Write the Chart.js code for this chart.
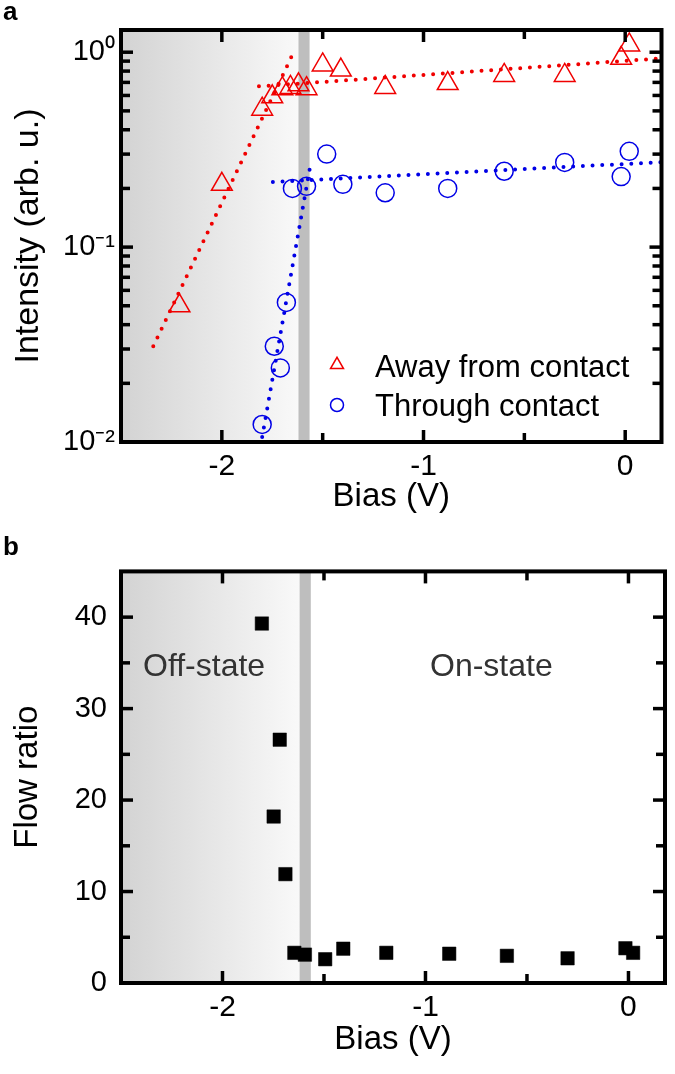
<!DOCTYPE html>
<html><head><meta charset="utf-8">
<script src="https://cdn.jsdelivr.net/npm/chart.js@4.4.1/dist/chart.umd.min.js"></script>
<style>
html,body{margin:0;padding:0;background:#fff;}
#wrap{position:relative;width:675px;height:1074px;overflow:hidden;font-family:"Liberation Sans",Arial,sans-serif;}
.box{position:absolute;left:0;width:675px;}
.lbl{position:absolute;line-height:1;white-space:nowrap;color:#000;}
</style></head><body>
<div id="wrap">
  <div class="box" style="top:0;height:540px"><canvas id="c1"></canvas></div>
  <div class="box" style="top:540px;height:534px"><canvas id="c2"></canvas></div>
  <div class="lbl" style="left:3px;top:-2px;font-size:26px;font-weight:bold;">a</div>
  <div class="lbl" style="left:3px;top:533px;font-size:26px;font-weight:bold;">b</div>
  <svg style="position:absolute;left:320px;top:350px;" width="35" height="70">
    <polygon points="10.5,18.6 23.5,18.6 17,7.3" fill="none" stroke="rgb(240,0,0)" stroke-width="1.5"/>
    <circle cx="17" cy="55" r="6.5" fill="none" stroke="rgb(0,0,230)" stroke-width="1.5"/>
  </svg>
  <div class="lbl" style="left:375px;top:351px;font-size:31px;">Away from contact</div>
  <div class="lbl" style="left:375px;top:390px;font-size:31px;">Through contact</div>
  <div class="lbl" style="left:143px;top:649px;font-size:32px;color:#333;">Off-state</div>
  <div class="lbl" style="left:430px;top:649px;font-size:32px;color:#333;">On-state</div>
</div>
<script>
// ---- data ----
const awayX = [-2.21, -2.00, -1.80, -1.75, -1.70, -1.66, -1.62, -1.58, -1.50, -1.41, -1.19, -0.88, -0.60, -0.30, -0.02, 0.02];
const awayY = [0.050, 0.21, 0.51, 0.59, 0.65, 0.66, 0.68, 0.65, 0.86, 0.81, 0.66, 0.69, 0.76, 0.76, 0.93, 1.09];
const throughX = [-1.80, -1.74, -1.71, -1.68, -1.65, -1.58, -1.48, -1.40, -1.19, -0.88, -0.60, -0.30, -0.02, 0.02];
const throughY = [0.0123, 0.031, 0.024, 0.052, 0.20, 0.205, 0.30, 0.21, 0.19, 0.20, 0.245, 0.272, 0.23, 0.31];
const awayFitSteepX = [-2.34, -1.65];
const awayFitSteepY = [0.031, 0.97];
const awayFitFlatX = [-1.816, 0.18];
const awayFitFlatY = [0.668, 0.93];
const throughFitSteepX = [-1.80, -1.562];
const throughFitSteepY = [0.0106, 0.26];
const throughFitFlatX = [-1.747, 0.18];
const throughFitFlatY = [0.216, 0.273];
const ratioX = [-1.806, -1.748, -1.718, -1.69, -1.646, -1.594, -1.494, -1.405, -1.193, -0.883, -0.599, -0.30, -0.015, 0.023];
const ratioY = [39.3, 18.2, 26.6, 11.9, 3.3, 3.1, 2.6, 3.75, 3.3, 3.2, 2.97, 2.7, 3.8, 3.3];

const xTickValues = [-2, -1, 0];
const xTickLabels = ['-2', '-1', '0'];
const xMinorTicks = [-1.5, -0.5];
const intensityTickValues = [0.01, 0.1, 1];
const intensityTickLabels = ['10\u207B\u00B2', '10\u207B\u00B9', '10\u2070'];
const intensityMinorTicks = [0.02, 0.03, 0.04, 0.05, 0.06, 0.07, 0.08, 0.09, 0.2, 0.3, 0.4, 0.5, 0.6, 0.7, 0.8, 0.9];
const ratioTickValues = [0, 10, 20, 30, 40];
const ratioTickLabels = ['0', '10', '20', '30', '40'];
const ratioMinorTicks = [5, 15, 25, 35];
const shadeRange = [-2.5, -1.62];
const bandRange = [-1.62, -1.565];

// ---- helpers ----
const FONT = '"Liberation Sans", Arial, sans-serif';
const RED = 'rgb(240,0,0)';
const BLUE = 'rgb(0,0,230)';
const pts = (xs, ys) => xs.map((x, i) => ({x: x, y: ys[i]}));

function makeDecor(cfg) {
  return {
    id: 'decor',
    beforeDatasetsDraw(chart) {
      const {ctx, chartArea: a, scales: {x}} = chart;
      const s0 = x.getPixelForValue(shadeRange[0]), s1 = x.getPixelForValue(shadeRange[1]);
      ctx.save();
      const g = ctx.createLinearGradient(s0, 0, s1, 0);
      g.addColorStop(0, '#d3d3d3');
      g.addColorStop(1, '#f9f9f9');
      ctx.fillStyle = g;
      ctx.fillRect(s0, a.top, s1 - s0, a.height);
      const b0 = x.getPixelForValue(bandRange[0]), b1 = x.getPixelForValue(bandRange[1]);
      ctx.fillStyle = '#bebebe';
      ctx.fillRect(b0, a.top, b1 - b0, a.height);
      ctx.restore();
    },
    afterDatasetsDraw(chart) {
      const {ctx, chartArea: a, scales: {x, y}} = chart;
      ctx.save();
      ctx.strokeStyle = '#000';
      ctx.lineWidth = 3.5;
      const seg = (x1, y1, x2, y2) => { ctx.beginPath(); ctx.moveTo(x1, y1); ctx.lineTo(x2, y2); ctx.stroke(); };
      const xt = (vals, L) => vals.forEach(v => { const p = x.getPixelForValue(v); seg(p, a.bottom, p, a.bottom - L); seg(p, a.top, p, a.top + L); });
      const yt = (vals, L) => vals.forEach(v => { const p = y.getPixelForValue(v); seg(a.left, p, a.left + L, p); seg(a.right, p, a.right - L, p); });
      xt(cfg.xMajor, 12); xt(cfg.xMinor, 9);
      yt(cfg.yMajor, 12); yt(cfg.yMinor, 9);
      ctx.lineWidth = 4;
      ctx.strokeRect(a.left, a.top, a.width, a.height);
      ctx.restore();
    }
  };
}

function xScale(h, titlePad) {
  return {
    type: 'linear', position: 'bottom', min: -2.5, max: 0.18,
    grid: {display: false, drawTicks: false}, border: {display: false},
    afterBuildTicks: s => { s.ticks = xTickValues.map(v => ({value: v})); },
    afterFit: s => { s.height = h; },
    ticks: {color: '#000', font: {family: FONT, size: 30}, padding: 7,
      callback: v => xTickLabels[xTickValues.indexOf(v)]},
    title: {display: true, text: 'Bias (V)', color: '#000', font: {family: FONT, size: 33}, padding: {top: 0, bottom: titlePad}}
  };
}

const fitStyle = (c) => ({showLine: true, borderColor: c, borderWidth: 4, borderDash: [0, 9.7], borderCapStyle: 'round', pointRadius: 0, pointHoverRadius: 0, fill: false});

new Chart(document.getElementById('c1'), {
  type: 'scatter',
  data: {datasets: [
    {label: 'Away from contact', data: pts(awayX, awayY), pointStyle: 'triangle', pointRadius: 12, pointHoverRadius: 12, borderWidth: 1.5, borderColor: RED, backgroundColor: 'rgba(0,0,0,0)', clip: false},
    {label: 'Through contact', data: pts(throughX, throughY), pointStyle: 'circle', pointRadius: 9, pointHoverRadius: 9, borderWidth: 1.5, borderColor: BLUE, backgroundColor: 'rgba(0,0,0,0)', clip: false},
    Object.assign({label: 'fit a1', data: pts(awayFitSteepX, awayFitSteepY)}, fitStyle(RED)),
    Object.assign({label: 'fit a2', data: pts(awayFitFlatX, awayFitFlatY)}, fitStyle(RED)),
    Object.assign({label: 'fit t1', data: pts(throughFitSteepX, throughFitSteepY)}, fitStyle(BLUE)),
    Object.assign({label: 'fit t2', data: pts(throughFitFlatX, throughFitFlatY)}, fitStyle(BLUE))
  ]},
  options: {
    responsive: true, maintainAspectRatio: false, animation: false, devicePixelRatio: 1,
    layout: {padding: {left: 0, right: 9, top: 30, bottom: 0}},
    plugins: {legend: {display: false}, tooltip: {enabled: false}},
    scales: {
      x: xScale(98, 23),
      y: {
        type: 'logarithmic', position: 'left', min: 0.01, max: 1.3,
        grid: {display: false, drawTicks: false}, border: {display: false},
        afterBuildTicks: s => { s.ticks = intensityTickValues.map(v => ({value: v})); },
        afterFit: s => { s.width = 121; },
        ticks: {color: '#000', font: {family: FONT, size: 29}, padding: 6,
          callback: v => intensityTickLabels[intensityTickValues.indexOf(v)]},
        title: {display: true, text: 'Intensity (arb. u.)', color: '#000', font: {family: FONT, size: 34}, padding: {top: 8, bottom: 0}}
      }
    }
  },
  plugins: [makeDecor({xMajor: xTickValues, xMinor: xMinorTicks, yMajor: intensityTickValues, yMinor: intensityMinorTicks})]
});

new Chart(document.getElementById('c2'), {
  type: 'scatter',
  data: {datasets: [
    {label: 'Flow ratio', data: pts(ratioX, ratioY), pointStyle: 'rect', pointRadius: 9.5, pointHoverRadius: 9.5, borderWidth: 0.5, borderColor: '#000', backgroundColor: '#000', clip: false}
  ]},
  options: {
    responsive: true, maintainAspectRatio: false, animation: false, devicePixelRatio: 1,
    layout: {padding: {left: 0, right: 9, top: 20, bottom: 0}},
    plugins: {legend: {display: false}, tooltip: {enabled: false}},
    scales: {
      x: xScale(91, 14),
      y: {
        type: 'linear', position: 'left', min: 0, max: 45,
        grid: {display: false, drawTicks: false}, border: {display: false},
        afterBuildTicks: s => { s.ticks = ratioTickValues.map(v => ({value: v})); },
        afterFit: s => { s.width = 121; },
        ticks: {color: '#000', font: {family: FONT, size: 29}, padding: 14,
          callback: v => ratioTickLabels[ratioTickValues.indexOf(v)]},
        title: {display: true, text: 'Flow ratio', color: '#000', font: {family: FONT, size: 33}, padding: {top: 8, bottom: 0}}
      }
    }
  },
  plugins: [makeDecor({xMajor: xTickValues, xMinor: xMinorTicks, yMajor: ratioTickValues, yMinor: ratioMinorTicks})]
});
</script>
</body></html>
